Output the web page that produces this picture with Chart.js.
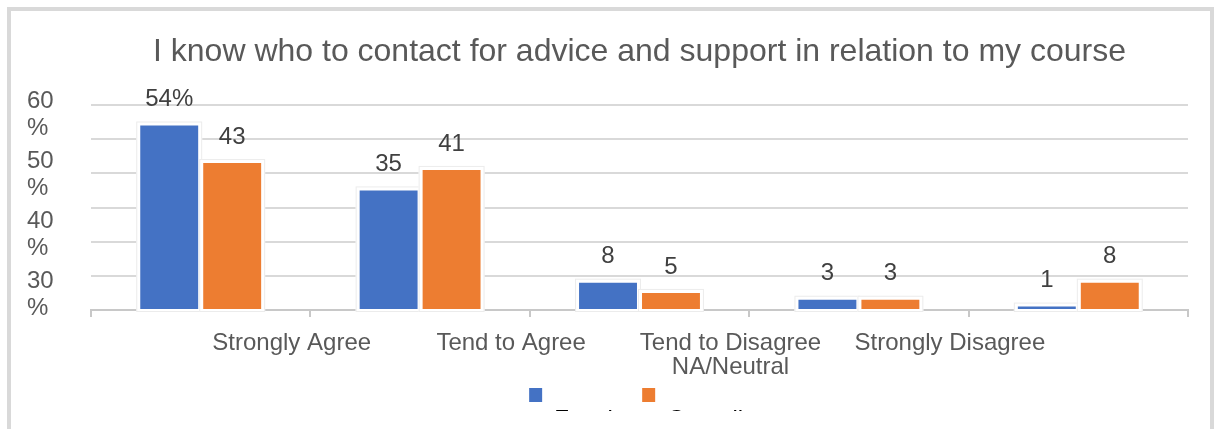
<!DOCTYPE html>
<html>
<head>
<meta charset="utf-8">
<script src="https://cdn.jsdelivr.net/npm/chart.js@4.4.1/dist/chart.umd.min.js"></script>
<style>
  html, body { margin: 0; padding: 0; background: #ffffff; }
  #frame {
    position: absolute; left: 7px; top: 7px; width: 1207px; height: 422px;
    box-sizing: border-box; border: 4px solid #d9d9d9; border-bottom: none;
  }
  #clip { position: absolute; left: 0; top: 0; width: 1199px; height: 400px; overflow: hidden; }
  #box { position: relative; width: 1199px; height: 406px; }
</style>
</head>
<body>
<div id="frame"><div id="clip"><div id="box"><canvas id="chart"></canvas></div></div></div>
<script>
// Survey answers, percentage of respondents per answer
const categories = ['Strongly Agree', 'Tend to Agree', 'Tend to Disagree', 'Strongly Disagree', 'NA/Neutral'];
const seriesNames = ['Faculty', 'Overall'];
const facultyValues = [54, 35, 8, 3, 1];
const overallValues = [43, 41, 5, 3, 8];
const yTickValues = [60, 50, 40, 30];

const FONT = '"Liberation Sans", Arial, sans-serif';

// White frame with a faint outline around every bar
const barFrames = {
  id: 'barFrames',
  beforeDatasetsDraw(chart) {
    const ctx = chart.ctx;
    ctx.save();
    chart.data.datasets.forEach((ds, di) => {
      chart.getDatasetMeta(di).data.forEach(bar => {
        const p = bar.getProps(['x', 'y', 'base', 'width'], true);
        const l = p.x - p.width / 2 - 4, t = p.y - 4;
        const w = p.width + 8, h = p.base - p.y + 7;
        ctx.fillStyle = '#ffffff';
        ctx.fillRect(l, t, w, h);
        ctx.strokeStyle = '#ececec';
        ctx.lineWidth = 1;
        ctx.strokeRect(l + 0.5, t + 0.5, w - 1, h - 1);
      });
    });
    ctx.restore();
  }
};

// Value labels above the bars
const valueLabels = {
  id: 'valueLabels',
  afterDatasetsDraw(chart) {
    const ctx = chart.ctx;
    ctx.save();
    ctx.font = '24px ' + FONT;
    ctx.fillStyle = '#404040';
    ctx.textAlign = 'center';
    ctx.textBaseline = 'middle';
    chart.data.datasets.forEach((ds, di) => {
      chart.getDatasetMeta(di).data.forEach((bar, i) => {
        const v = ds.data[i];
        const text = (di === 0 && i === 0) ? v + '%' : String(v);
        ctx.fillText(text, bar.x, bar.y - 26);
      });
    });
    ctx.restore();
  }
};

new Chart(document.getElementById('chart'), {
  type: 'bar',
  data: {
    labels: categories,
    datasets: [
      { label: seriesNames[0], data: facultyValues, backgroundColor: '#4472c4', borderWidth: 0 },
      { label: seriesNames[1], data: overallValues, backgroundColor: '#ed7d31', borderWidth: 0 }
    ]
  },
  options: {
    responsive: true,
    maintainAspectRatio: false,
    animation: false,
    devicePixelRatio: 1,
    datasets: { bar: { categoryPercentage: 0.574, barPercentage: 0.92 } },
    layout: { padding: { left: 16, right: 22, top: 0, bottom: 0 } },
    scales: {
      x: {
        offset: true,
        grid: { display: true, drawOnChartArea: false, drawTicks: true, tickLength: 7, color: '#c8c8c8', lineWidth: 2, offset: true },
        border: { display: true, color: '#c8c8c8', width: 2 },
        ticks: {
          autoSkip: false, maxRotation: 0, minRotation: 0,
          labelOffset: 91, padding: 14,
          color: '#595959',
          font: { family: FONT, size: 24, lineHeight: 1.0 },
          callback: (value, index) => index === 2 ? [categories[2], categories[4]] : (index === 4 ? '' : categories[index])
        },
        afterFit: (scale) => { scale.height = 69; }
      },
      y: {
        position: 'left',
        min: 0, max: 60,
        ticks: { display: false, stepSize: 10 },
        grid: { color: '#d9d9d9', lineWidth: 2, drawTicks: false },
        border: { display: false }
      },
      yLabels: {
        position: 'left',
        min: 27.5, max: 61.67,
        grid: { display: false, drawTicks: false },
        border: { display: false },
        afterBuildTicks: (scale) => { scale.ticks = yTickValues.map(v => ({ value: v })); },
        afterFit: (scale) => { scale.width = 64; },
        ticks: {
          crossAlign: 'far',
          color: '#595959',
          font: { family: FONT, size: 24, lineHeight: 1.1 },
          callback: (value) => [String(value), '%']
        }
      }
    },
    plugins: {
      title: {
        display: true,
        fullSize: false,
        text: 'I know who to contact for advice and support in relation to my course',
        color: '#595959',
        font: { family: FONT, size: 32, weight: 'normal', lineHeight: 1.2 },
        padding: { top: 22, bottom: 33.6 }
      },
      legend: {
        display: true,
        position: 'bottom',
        fullSize: false,
        labels: {
          boxWidth: 13, boxHeight: 14, padding: 4,
          color: '#595959',
          font: { family: FONT, size: 24, lineHeight: 1.07 },
          generateLabels: (chart) => chart.data.datasets.map((ds, i) => ({
            text: ['', ds.label],
            fillStyle: ds.backgroundColor,
            strokeStyle: ds.backgroundColor,
            lineWidth: 0,
            datasetIndex: i,
            hidden: false
          }))
        }
      },
      tooltip: { enabled: false }
    }
  },
  plugins: [barFrames, valueLabels]
});
</script>
</body>
</html>
